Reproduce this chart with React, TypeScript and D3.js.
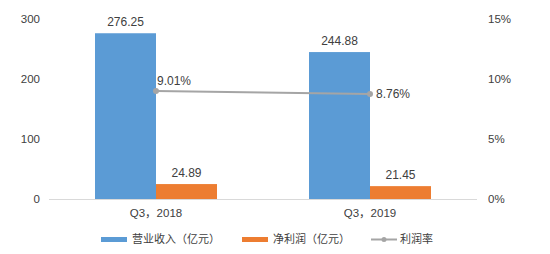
import React from "react";
import * as d3 from "d3";

const categories = ["Q3，2018", "Q3，2019"];
const revenue = [276.25, 244.88];
const netProfit = [24.89, 21.45];
const margin = [9.01, 8.76];
const leftTicks = [0, 100, 200, 300];
const rightTicks = [0, 5, 10, 15];
const seriesNames = ["营业收入（亿元）", "净利润（亿元）", "利润率"];

const W = 550, H = 254;
const plot = { left: 49, right: 477, top: 19, bottom: 199 };
const font = "'Liberation Sans', 'Noto Sans CJK SC', Arial, sans-serif";
const textColor = "#404040";
const blue = "#5b9bd5", orange = "#ed7d31", gray = "#a5a5a5";

export default function App() {
  const x0 = d3.scaleBand<string>().domain(categories).range([plot.left, plot.right]).paddingInner(0).paddingOuter(0);
  const groupW = 122;
  const x1 = d3.scaleBand<number>().domain([0, 1]).range([0, groupW]);
  const yL = d3.scaleLinear().domain([0, 300]).range([plot.bottom, plot.top]);
  const yR = d3.scaleLinear().domain([0, 15]).range([plot.bottom, plot.top]);
  const groupStart = (c: string) => (x0(c) as number) + (x0.bandwidth() - groupW) / 2;
  const center = (c: string) => (x0(c) as number) + x0.bandwidth() / 2;
  const line = d3.line<number>().x((_, i) => center(categories[i])).y((d) => yR(d));

  return (
    <svg width={W} height={H} style={{ position: "absolute", left: 0, top: 0 }} fontFamily={font}>
      <rect width={W} height={H} fill="#fff" />
      <line x1={plot.left} x2={plot.right} y1={plot.bottom + 0.5} y2={plot.bottom + 0.5} stroke="#d9d9d9" strokeWidth={1} />
      {leftTicks.map((t) => (
        <text key={"l" + t} x={40} y={yL(t)} dy="0.35em" textAnchor="end" fontSize={11.5} fill={textColor}>{t}</text>
      ))}
      {rightTicks.map((t) => (
        <text key={"r" + t} x={488} y={yR(t)} dy="0.35em" textAnchor="start" fontSize={11.5} fill={textColor}>{t}%</text>
      ))}
      {categories.map((c, i) => {
        const gs = groupStart(c);
        const bw = x1.bandwidth();
        const bx = gs + (x1(0) as number);
        const ox = gs + (x1(1) as number);
        return (
          <g key={c}>
            <rect x={bx} y={yL(revenue[i])} width={bw} height={plot.bottom - yL(revenue[i])} fill={blue} />
            <rect x={ox} y={yL(netProfit[i])} width={bw} height={plot.bottom - yL(netProfit[i])} fill={orange} />
            <text x={bx + bw / 2} y={yL(revenue[i]) - 7} textAnchor="middle" fontSize={12} fill={textColor}>{revenue[i].toFixed(2)}</text>
            <text x={ox + bw / 2} y={yL(netProfit[i]) - 7} textAnchor="middle" fontSize={12} fill={textColor}>{netProfit[i].toFixed(2)}</text>
            <text x={center(c)} y={213} dy="0.35em" textAnchor="middle" fontSize={11.5} fill={textColor}>{c}</text>
          </g>
        );
      })}
      <path d={line(margin) || ""} fill="none" stroke={gray} strokeWidth={2} />
      {margin.map((m, i) => (
        <circle key={"p" + i} cx={center(categories[i])} cy={yR(m)} r={3} fill={gray} />
      ))}
      <text x={center(categories[0]) + 1} y={yR(margin[0]) - 6} fontSize={12} fill={textColor}>{margin[0].toFixed(2)}%</text>
      <text x={center(categories[1]) + 6} y={yR(margin[1])} dy="0.35em" fontSize={12} fill={textColor}>{margin[1].toFixed(2)}%</text>
      <g fontSize={11} fill={textColor}>
        <rect x={101} y={237} width={26} height={5} fill={blue} />
        <text x={132} y={239.5} dy="0.35em">{seriesNames[0]}</text>
        <rect x={242} y={237} width={26} height={5} fill={orange} />
        <text x={273} y={239.5} dy="0.35em">{seriesNames[1]}</text>
        <line x1={371} x2={397} y1={239.5} y2={239.5} stroke={gray} strokeWidth={2} />
        <circle cx={384} cy={239.5} r={2.5} fill={gray} />
        <text x={400} y={239.5} dy="0.35em">{seriesNames[2]}</text>
      </g>
    </svg>
  );
}
